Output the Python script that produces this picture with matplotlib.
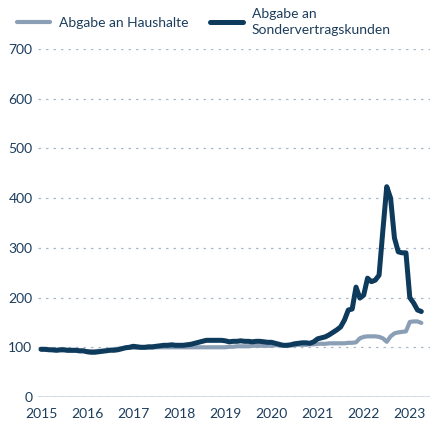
"""
Gaspreisindex: Abgabe an Haushalte vs. Sondervertragskunden
"""

import numpy as np
import pandas as pd
import matplotlib
matplotlib.use("Agg")
import matplotlib.pyplot as plt

# monthly index values, Jan 2015 .. Apr 2023 (2015 = 100-ish)
months = pd.date_range("2015-01-01", "2023-04-01", freq="MS")

haushalte = [
    96, 95, 95, 94, 94, 94, 94, 93, 93, 93, 92, 92,            # 2015
    92, 92, 92, 93, 93, 94, 95, 96, 97, 98, 99, 99,            # 2016
    99, 99, 99, 99, 99, 99, 100, 100, 100, 100, 100, 100,      # 2017
    100, 100, 100, 100, 100, 100, 100, 100, 100, 100, 100, 100,  # 2018
    100, 101, 101, 102, 102, 102, 102, 103, 103, 103, 103, 103,  # 2019
    103, 104, 104, 104, 104, 104, 104, 105, 105, 105, 106, 106,  # 2020
    107, 107, 107, 108, 108, 108, 108, 108, 109, 109, 110, 118,  # 2021
    121, 122, 122, 122, 121, 118, 111, 122, 128, 130, 131, 132,  # 2022
    151, 152, 152, 149,                                         # 2023
]

sondervertrag = [
    96, 96, 95, 95, 94, 95, 95, 94, 94, 94, 93, 93,            # 2015
    91, 90, 90, 91, 92, 93, 94, 94, 95, 97, 99, 100,           # 2016
    102, 101, 100, 100, 101, 101, 102, 103, 104, 104, 105, 104,  # 2017
    104, 104, 105, 106, 108, 110, 112, 114, 114, 114, 114, 114,  # 2018
    113, 111, 112, 112, 113, 112, 112, 111, 112, 112, 111, 110,  # 2019
    110, 108, 106, 104, 104, 105, 107, 108, 109, 109, 108, 111,  # 2020
    117, 119, 121, 125, 130, 135, 141, 155, 175, 177, 221, 199,  # 2021
    205, 239, 232, 235, 245, 336, 423, 400, 320, 292, 290, 290,  # 2022
    200, 189, 175, 172,                                         # 2023
]

year_ticks = list(range(2015, 2024))
y_ticks = [0, 100, 200, 300, 400, 500, 600, 700]

# decimal years for plotting
x = months.year + (months.month - 1) / 12.0

text_color = "#1c3d5c"
light = "#8a9fb5"
dark = "#0e3a5c"

plt.rcParams["font.family"] = ["Lato", "DejaVu Sans"]

fig = plt.figure(figsize=(4.32, 4.29), dpi=100)
ax = fig.add_axes([38 / 432, 1 - 397 / 429, 392 / 432, 348 / 429])

ax.plot(x, haushalte, color=light, lw=3.0, solid_capstyle="round",
        solid_joinstyle="round", label="Abgabe an Haushalte", zorder=3)
ax.plot(x, sondervertrag, color=dark, lw=3.6, solid_capstyle="round",
        solid_joinstyle="round", label="Abgabe an\nSondervertragskunden", zorder=4)

ax.set_xlim(2015 - 3 / 46.1, 2015 + (430 - 41) / 46.1)
ax.set_ylim(0, 700)

ax.set_yticks(y_ticks)
ax.set_xticks(year_ticks)
ax.set_xticklabels([str(y) for y in year_ticks])

for s in ax.spines.values():
    s.set_visible(False)

ax.yaxis.grid(True, color="#a9b8c8", lw=0.9, linestyle=(0, (2, 4)))
ax.set_axisbelow(True)
ax.axhline(0, color="#3f5f7a", lw=1.0, zorder=2)

ax.tick_params(axis="both", length=0, labelsize=10, labelcolor=text_color)
ax.tick_params(axis="y", pad=4)
ax.tick_params(axis="x", pad=8)

leg = fig.legend(loc="upper left", bbox_to_anchor=(0.01, 1.01), ncol=2,
                 frameon=False, fontsize=10, handlelength=2.4, handletextpad=0.65,
                 columnspacing=1.5, labelcolor=text_color)
for h in leg.legend_handles:
    h.set_solid_capstyle("round")
leg.get_texts()[1].set_linespacing(1.35)

fig.savefig("out.png", dpi=100)
plt.close(fig)
